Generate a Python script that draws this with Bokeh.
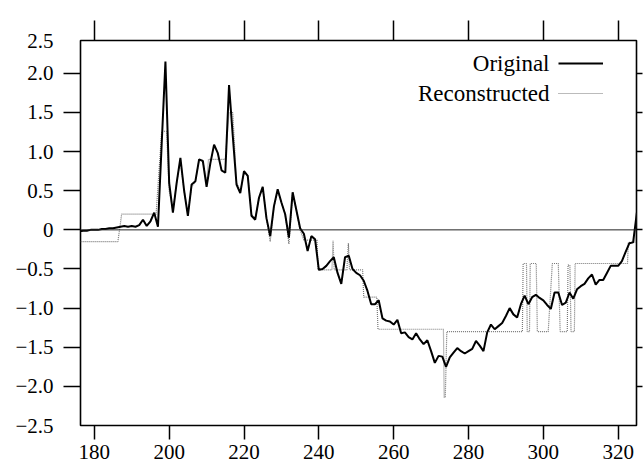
from bokeh.plotting import figure
from bokeh.models import (Range1d, LinearAxis, FixedTicker, Span, Label,
                          Legend, LegendItem)
from bokeh.embed import file_html
from bokeh.resources import INLINE

# ---------------- data ----------------
x_orig = list(range(176, 326))
y_orig = [
    -0.02, -0.01, -0.01, 0.00, 0.00, 0.00, 0.01, 0.01, 0.02, 0.02,   # 176-185
    0.03, 0.04, 0.05, 0.04, 0.05, 0.04, 0.06, 0.13, 0.05, 0.11,      # 186-195
    0.22, 0.04, 1.10, 2.15, 0.60, 0.22, 0.60, 0.92, 0.50, 0.18,      # 196-205
    0.58, 0.62, 0.90, 0.88, 0.55, 0.85, 1.09, 0.98, 0.76, 0.73,      # 206-215
    1.85, 1.20, 0.58, 0.47, 0.75, 0.69, 0.18, 0.13, 0.41, 0.55,      # 216-225
    0.15, -0.08, 0.30, 0.52, 0.35, 0.20, -0.10, 0.48, 0.25, 0.02,    # 226-235
    -0.05, -0.27, -0.08, -0.12, -0.51, -0.50, -0.46, -0.40, -0.35, -0.55,  # 236-245
    -0.69, -0.35, -0.33, -0.50, -0.55, -0.58, -0.65, -0.78, -0.95, -0.95,  # 246-255
    -0.90, -1.13, -1.16, -1.17, -1.21, -1.15, -1.32, -1.31, -1.37, -1.40,  # 256-265
    -1.32, -1.40, -1.46, -1.41, -1.55, -1.70, -1.61, -1.62, -1.75, -1.63,  # 266-275
    -1.57, -1.51, -1.55, -1.58, -1.55, -1.52, -1.42, -1.48, -1.55, -1.31,  # 276-285
    -1.21, -1.27, -1.23, -1.19, -1.10, -1.00, -1.08, -1.12, -0.95, -0.84,  # 286-295
    -0.95, -0.86, -0.83, -0.87, -0.90, -0.96, -1.01, -0.80, -0.80, -0.96,  # 296-305
    -0.93, -0.80, -0.88, -0.76, -0.72, -0.69, -0.62, -0.57, -0.70, -0.64,  # 306-315
    -0.64, -0.55, -0.46, -0.46, -0.46, -0.40, -0.28, -0.17, -0.16, 0.22,   # 316-325
]

recon_x = [176, 186.3, 187.3, 196.5, 198.0, 199.3, 200, 201, 202, 203, 204,
           205, 206, 207, 208, 209, 210, 210.5, 214.5, 215, 216, 217, 218,
           219, 220, 221, 222, 223, 224, 225, 226, 227, 228, 229, 230, 231,
           232, 233, 234, 235, 236, 239.5, 239.8, 243.5, 243.8, 244.1, 247.5,
           247.9, 248.2, 251.7, 252.0, 255.5, 255.8, 273.3, 273.5, 273.8,
           274.2, 294.4, 294.6, 295.5, 295.7, 296.3, 296.5, 298.1, 298.4,
           301.3, 302.4, 304.0, 304.5, 306.4, 306.6, 307.1, 307.4, 308.3,
           308.5, 322.5, 322.7, 324.5, 325]
recon_y = [-0.15, -0.15, 0.20, 0.20, 1.26, 1.26, 0.50, 0.25, 0.60, 0.90, 0.50,
           0.20, 0.55, 0.62, 0.90, 0.88, 0.60, 0.90, 0.90, 0.90, 1.50, 1.50,
           0.60, 0.50, 0.72, 0.70, 0.20, 0.15, 0.40, 0.55, 0.15, -0.15, 0.30,
           0.50, 0.35, 0.20, -0.18, 0.48, 0.25, 0.00, -0.13, -0.13, -0.51,
           -0.51, -0.14, -0.51, -0.51, -0.17, -0.51, -0.51, -0.86, -0.86,
           -1.27, -1.27, -2.14, -2.14, -1.30, -1.30, -0.43, -0.43, -1.30,
           -1.30, -0.43, -0.43, -1.30, -1.30, -0.43, -0.43, -1.30, -1.30,
           -0.45, -0.45, -1.30, -1.30, -0.43, -0.43, -0.16, -0.16, 0.22]

x_ticks = [180, 200, 220, 240, 260, 280, 300, 320]
y_ticks = [-2.0, -1.5, -1.0, -0.5, 0.0, 0.5, 1.0, 1.5, 2.0]
# label positions on the y axis (the top label sits at the frame's top edge)
y_label_ticks = [-2.5, -2.0, -1.5, -1.0, -0.5, 0.0, 0.5, 1.0, 1.5, 2.0, 2.42]
y_label_texts = ["\u22122.5", "\u22122.0", "\u22121.5", "\u22121.0", "\u22120.5",
                 "0", "0.5", "1.0", "1.5", "2.0", "2.5"]
legend_labels = ["Original", "Reconstructed"]

FONT = "Liberation Serif"

p = figure(width=643, height=468, output_backend="svg", toolbar_location=None,
           x_range=Range1d(176.3, 324.9), y_range=Range1d(-2.5, 2.42),
           x_axis_location=None, y_axis_location=None,
           min_border_left=80, min_border_right=7, min_border_top=40,
           min_border_bottom=43)
p.xgrid.visible = False
p.ygrid.visible = False
p.outline_line_color = "black"
p.outline_line_width = 1.6
p.background_fill_color = "white"
p.border_fill_color = "white"


def make_axis(ticks, tick_out, show_labels, overrides=None, standoff=5,
              tick_color="black"):
    ax = LinearAxis(ticker=FixedTicker(ticks=ticks, minor_ticks=[]))
    ax.axis_line_color = None
    ax.major_tick_out = tick_out
    ax.major_tick_in = 0
    ax.minor_tick_out = 0
    ax.minor_tick_in = 0
    ax.major_tick_line_color = tick_color
    ax.major_tick_line_width = 1.5
    if show_labels:
        ax.major_label_text_font = FONT
        ax.major_label_text_font_size = "21px"
        ax.major_label_text_color = "black"
        ax.major_label_standoff = standoff
        if overrides:
            ax.major_label_overrides = overrides
    else:
        ax.major_label_text_font_size = "0px"
        ax.major_label_text_color = None
        ax.major_label_standoff = 0
    return ax


p.add_layout(make_axis(x_ticks, 14, True, standoff=5), "below")
p.add_layout(make_axis(x_ticks, 20, False), "above")
# left: tick marks next to the frame, labels in a second panel outside them
p.add_layout(make_axis(y_ticks, 17, False), "left")
p.add_layout(make_axis(y_label_ticks, 0, True,
                       overrides={v: s for v, s in zip(y_label_ticks, y_label_texts)},
                       standoff=10, tick_color=None), "left")
p.add_layout(make_axis(y_ticks, 6, False), "right")

p.add_layout(Span(location=0, dimension="width", line_color="#222222",
                  line_width=1))

r_recon = p.line(recon_x, recon_y, line_color="#777777", line_width=1.2,
                 line_dash="1 1")
r_orig = p.line(x_orig, y_orig, line_color="black", line_width=2)

legend = Legend(items=[LegendItem(label=" ", renderers=[r_orig]),
                       LegendItem(label=" ", renderers=[r_recon])],
                location=(478, 322), glyph_width=45, glyph_height=20,
                label_height=20, label_width=0, label_standoff=0,
                spacing=10, padding=0, margin=0, border_line_color=None,
                background_fill_alpha=0, label_text_font_size="1px")
p.add_layout(legend, "center")

for s, yy in zip(legend_labels, [362, 332]):
    p.add_layout(Label(x=469, y=yy, x_units="screen", y_units="screen",
                       text=s, text_align="right", text_baseline="middle",
                       text_font=FONT, text_font_size="23px",
                       text_color="black"))

open("out.html", "w").write(file_html(p, INLINE))
